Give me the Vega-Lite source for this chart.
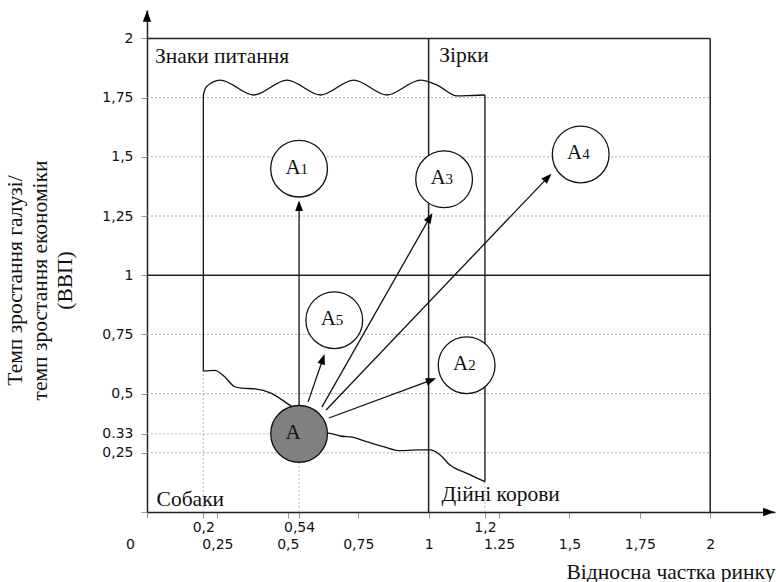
{
  "$schema": "https://vega.github.io/schema/vega-lite/v6.json",
  "width": 628,
  "height": 502,
  "autosize": {"type": "none"},
  "padding": {"left": 147, "top": 10, "right": 1, "bottom": 70},
  "background": "white",
  "config": {"view": {"stroke": null}},
  "datasets": {
    "grid": [
      {"x": 0, "x2": 2, "y": 0.25, "y2": 0.25},
      {"x": 0, "x2": 2, "y": 0.5, "y2": 0.5},
      {"x": 0, "x2": 2, "y": 0.75, "y2": 0.75},
      {"x": 0, "x2": 2, "y": 1.25, "y2": 1.25},
      {"x": 0, "x2": 2, "y": 1.5, "y2": 1.5},
      {"x": 0, "x2": 2, "y": 1.75, "y2": 1.75}
    ],
    "guides": [
      {"x": 0, "x2": 0.54, "y": 0.33, "y2": 0.33},
      {"x": 0.54, "x2": 0.54, "y": 0, "y2": 0.33},
      {"x": 0.2, "x2": 0.2, "y": 0, "y2": 0.595},
      {"x": 1.2, "x2": 1.2, "y": 0, "y2": 0.128}
    ],
    "frame": [
      {"x": 0, "x2": 2, "y": 2, "y2": 2},
      {"x": 0, "x2": 2, "y": 1, "y2": 1},
      {"x": 1, "x2": 1, "y": 0, "y2": 2},
      {"x": 2, "x2": 2, "y": 0, "y2": 2}
    ],
    "bounds": [
      {"x": 0.2, "x2": 0.2, "y": 0.595, "y2": 1.761},
      {"x": 1.2, "x2": 1.2, "y": 0.128, "y2": 1.761}
    ],
    "curves": [
      {"part": "top", "x": 0.2, "y": 1.761},
      {"part": "top", "x": 0.21, "y": 1.795},
      {"part": "top", "x": 0.26, "y": 1.824},
      {"part": "top", "x": 0.379, "y": 1.761},
      {"part": "top", "x": 0.497, "y": 1.824},
      {"part": "top", "x": 0.616, "y": 1.761},
      {"part": "top", "x": 0.734, "y": 1.824},
      {"part": "top", "x": 0.852, "y": 1.761},
      {"part": "top", "x": 0.971, "y": 1.824},
      {"part": "top", "x": 1.03, "y": 1.803},
      {"part": "top", "x": 1.101, "y": 1.757},
      {"part": "top", "x": 1.154, "y": 1.759},
      {"part": "top", "x": 1.2, "y": 1.761},
      {"part": "bl", "x": 0.2, "y": 0.595},
      {"part": "bl", "x": 0.24, "y": 0.598},
      {"part": "bl", "x": 0.275, "y": 0.572},
      {"part": "bl", "x": 0.31, "y": 0.53},
      {"part": "bl", "x": 0.335, "y": 0.523},
      {"part": "bl", "x": 0.385, "y": 0.52},
      {"part": "bl", "x": 0.44, "y": 0.502},
      {"part": "bl", "x": 0.49, "y": 0.465},
      {"part": "bl", "x": 0.53, "y": 0.43},
      {"part": "br", "x": 0.62, "y": 0.335},
      {"part": "br", "x": 0.65, "y": 0.332},
      {"part": "br", "x": 0.686, "y": 0.321},
      {"part": "br", "x": 0.733, "y": 0.315},
      {"part": "br", "x": 0.78, "y": 0.297},
      {"part": "br", "x": 0.839, "y": 0.276},
      {"part": "br", "x": 0.899, "y": 0.259},
      {"part": "br", "x": 0.958, "y": 0.262},
      {"part": "br", "x": 1.005, "y": 0.262},
      {"part": "br", "x": 1.041, "y": 0.241},
      {"part": "br", "x": 1.076, "y": 0.198},
      {"part": "br", "x": 1.136, "y": 0.163},
      {"part": "br", "x": 1.2, "y": 0.128}
    ],
    "arrows": [
      {"to": "A1", "x": 0.54, "y": 0.33, "x2": 0.54, "y2": 1.29},
      {"to": "A5", "x": 0.572, "y": 0.465, "x2": 0.623, "y2": 0.641},
      {"to": "A3", "x": 0.621, "y": 0.443, "x2": 1.002, "y2": 1.239},
      {"to": "A4", "x": 0.636, "y": 0.431, "x2": 1.42, "y2": 1.409},
      {"to": "A2", "x": 0.646, "y": 0.397, "x2": 1.005, "y2": 0.555}
    ],
    "heads": [
      {"to": "A1", "x": 0.54, "y": 1.288, "angle": 0},
      {"to": "A5", "x": 0.623, "y": 0.641, "angle": 19},
      {"to": "A3", "x": 1.002, "y": 1.239, "angle": 30},
      {"to": "A4", "x": 1.42, "y": 1.409, "angle": 44},
      {"to": "A2", "x": 1.005, "y": 0.555, "angle": 70}
    ],
    "axisheads": [
      {"x": 2.203, "y": 0, "angle": 90},
      {"x": 0, "y": 2.088, "angle": 0}
    ],
    "circles": [
      {"name": "A", "sub": "", "kind": "current", "x": 0.54, "y": 0.33},
      {"name": "A", "sub": "1", "kind": "target", "x": 0.54, "y": 1.45},
      {"name": "A", "sub": "2", "kind": "target", "x": 1.135, "y": 0.62},
      {"name": "A", "sub": "3", "kind": "target", "x": 1.055, "y": 1.405},
      {"name": "A", "sub": "4", "kind": "target", "x": 1.54, "y": 1.51},
      {"name": "A", "sub": "5", "kind": "target", "x": 0.665, "y": 0.81}
    ],
    "quadrants": [
      {"label": "Знаки питання", "x": 0.028, "y": 1.896},
      {"label": "Зірки", "x": 1.038, "y": 1.899},
      {"label": "Собаки", "x": 0.034, "y": 0.025},
      {"label": "Дійні корови", "x": 1.046, "y": 0.046}
    ]
  },
  "encoding": {
    "x": {
      "field": "x",
      "type": "quantitative",
      "scale": {"domain": [0, 2.23], "nice": false, "zero": false},
      "axis": {
        "values": [0, 0.2, 0.25, 0.5, 0.54, 0.75, 1, 1.2, 1.25, 1.5, 1.75, 2],
        "grid": false,
        "domainColor": "#222",
        "domainWidth": 1.5,
        "tickColor": "#999",
        "tickSize": 6,
        "tickWidth": 1,
        "labelFont": "DejaVu Sans",
        "labelFontSize": 14,
        "labelColor": "#111",
        "labelBaseline": "alphabetic",
        "labelOverlap": false,
        "labelBound": false,
        "labelFlush": false,
        "labelPadding": {"condition": {"test": "datum.value == 0.2 || datum.value == 0.54 || datum.value == 1.2", "value": 13}, "value": 30},
        "labelOffset": {"condition": {"test": "datum.value == 0", "value": -17}, "value": 0},
        "labelExpr": "datum.value == 1.25 ? '1.25' : replace('' + datum.value, '.', ',')",
        "title": "Відносна частка ринку",
        "titleFont": "Liberation Serif",
        "titleFontSize": 21.5,
        "titleFontWeight": "normal",
        "titleColor": "#111",
        "titleX": 628,
        "titleY": 66,
        "titleAlign": "right",
        "titleBaseline": "alphabetic"
      }
    },
    "y": {
      "field": "y",
      "type": "quantitative",
      "scale": {"domain": [0, 2.12], "nice": false, "zero": false},
      "axis": {
        "values": [0, 0.25, 0.33, 0.5, 0.75, 1, 1.25, 1.5, 1.75, 2],
        "grid": false,
        "domainColor": "#222",
        "domainWidth": 1.5,
        "tickColor": "#999",
        "tickSize": 6,
        "tickWidth": 1,
        "labelFont": "DejaVu Sans",
        "labelFontSize": 14,
        "labelColor": "#111",
        "labelPadding": 8,
        "labelOverlap": false,
        "labelBound": false,
        "labelFlush": false,
        "labelExpr": "datum.value == 0 ? '' : (datum.value == 0.33 ? '0.33' : replace('' + datum.value, '.', ','))",
        "title": ["Темп зростання галузі/", "темп зростання економіки", "(ВВП)"],
        "titleFont": "Liberation Serif",
        "titleFontSize": 21.5,
        "titleFontWeight": "normal",
        "titleColor": "#111",
        "titleAngle": -90,
        "titleX": -132,
        "titleY": 270,
        "titleAlign": "center",
        "titleBaseline": "middle",
        "titleLineHeight": 25
      }
    }
  },
  "layer": [
    {
      "data": {"name": "grid"},
      "mark": {"type": "rule", "color": "#b0b0b0", "strokeDash": [2, 2], "strokeWidth": 1},
      "encoding": {"x2": {"field": "x2"}, "y2": {"field": "y2"}}
    },
    {
      "data": {"name": "guides"},
      "mark": {"type": "rule", "color": "#b4b4d8", "strokeDash": [2, 2], "strokeWidth": 1},
      "encoding": {"x2": {"field": "x2"}, "y2": {"field": "y2"}}
    },
    {
      "data": {"name": "frame"},
      "mark": {"type": "rule", "color": "#222", "strokeWidth": 1.5},
      "encoding": {"x2": {"field": "x2"}, "y2": {"field": "y2"}}
    },
    {
      "data": {"name": "bounds"},
      "mark": {"type": "rule", "color": "#111", "strokeWidth": 1.3},
      "encoding": {"x2": {"field": "x2"}, "y2": {"field": "y2"}}
    },
    {
      "data": {"name": "curves"},
      "mark": {"type": "line", "interpolate": "monotone", "color": "#111", "strokeWidth": 1.3},
      "encoding": {"detail": {"field": "part"}}
    },
    {
      "data": {"name": "arrows"},
      "mark": {"type": "rule", "color": "#111", "strokeWidth": 1.3},
      "encoding": {"x2": {"field": "x2"}, "y2": {"field": "y2"}}
    },
    {
      "data": {"name": "heads"},
      "mark": {"type": "point", "shape": "M0,-1L0.6,0.6L-0.6,0.6Z", "filled": true, "size": 169, "color": "#000", "opacity": 1, "strokeWidth": 0},
      "encoding": {"angle": {"field": "angle", "type": "quantitative", "scale": null}}
    },
    {
      "data": {"name": "circles"},
      "mark": {"type": "point", "shape": "circle", "filled": true, "size": 3220, "stroke": "#111", "strokeWidth": 1.3, "opacity": 1},
      "encoding": {
        "fill": {"field": "kind", "type": "nominal", "scale": {"domain": ["current", "target"], "range": ["#808080", "#ffffff"]}, "legend": null}
      }
    },
    {
      "data": {"name": "circles"},
      "mark": {"type": "text", "font": "Liberation Serif", "fontSize": 21, "align": "center", "baseline": "alphabetic", "dx": -6, "dy": 5, "color": "#111"},
      "encoding": {"text": {"field": "name"}}
    },
    {
      "data": {"name": "circles"},
      "mark": {"type": "text", "font": "Liberation Serif", "fontSize": 15, "align": "left", "baseline": "alphabetic", "dx": 1.5, "dy": 5, "color": "#111"},
      "encoding": {"text": {"field": "sub"}}
    },
    {
      "data": {"name": "quadrants"},
      "mark": {"type": "text", "font": "Liberation Serif", "fontSize": 21.5, "align": "left", "baseline": "alphabetic", "color": "#111"},
      "encoding": {"text": {"field": "label"}}
    },
    {
      "data": {"name": "axisheads"},
      "mark": {"type": "point", "shape": "M0,-1L0.6,0.6L-0.6,0.6Z", "filled": true, "size": 200, "color": "#000", "opacity": 1, "strokeWidth": 0},
      "encoding": {"angle": {"field": "angle", "type": "quantitative", "scale": null}}
    }
  ]
}
